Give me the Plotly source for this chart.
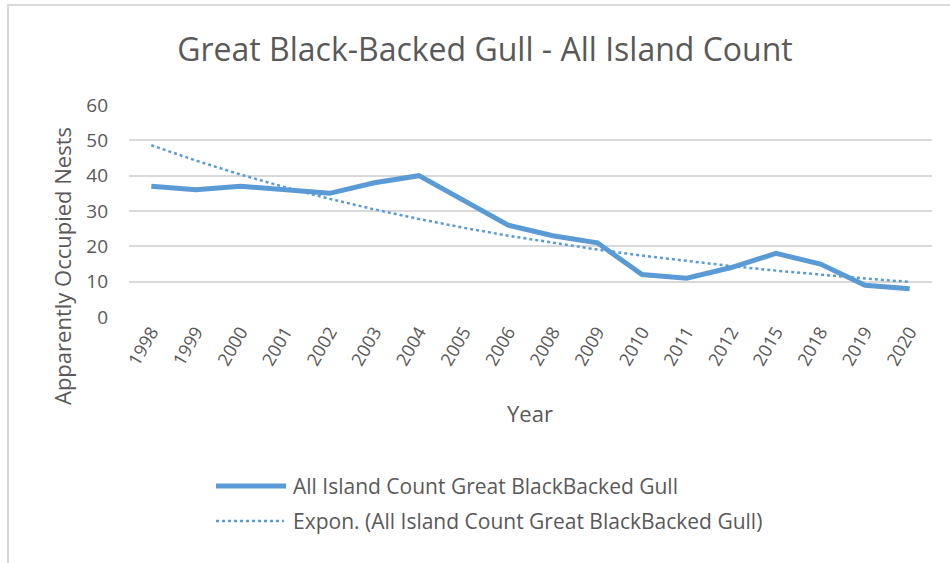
import numpy as np
import plotly.graph_objects as go

# Survey years (categorical axis) and apparently occupied nests
years = ["1998", "1999", "2000", "2001", "2002", "2003", "2004", "2005", "2006",
         "2008", "2009", "2010", "2011", "2012", "2015", "2018", "2019", "2020"]
nests = [37, 36, 37, 36, 35, 38, 40, 33, 26, 23, 21, 12, 11, 14, 18, 15, 9, 8]

series_name = "All Island Count Great BlackBacked Gull"
trend_name = "Expon. (All Island Count Great BlackBacked Gull)"

# Exponential trendline fitted on the category index (1..n), as a spreadsheet does
idx = np.arange(1, len(nests) + 1)
b, ln_a = np.polyfit(idx, np.log(nests), 1)
trend = np.exp(ln_a) * np.exp(b * idx)

BLUE = "#5b9bd5"
GREY = "#595959"
GRID = "#d9d9d9"
FONT = "Open Sans"

W, H = 950, 563
L, R, T, B = 129, 18, 105, 246
PW, PH = W - L - R, H - T - B


def px_x(px):
    return (px - L) / PW


def px_y(py):
    return (H - B - py) / PH


fig = go.Figure()
fig.add_trace(go.Scatter(
    x=years, y=nests, mode="lines", name=series_name,
    line=dict(color=BLUE, width=5), showlegend=False,
))
fig.add_trace(go.Scatter(
    x=years, y=trend, mode="lines", name=trend_name,
    line=dict(color=BLUE, width=2.5, dash="dot"), showlegend=False,
))

shapes = [
    # chart frame (top and left edges)
    dict(type="line", xref="paper", yref="paper", x0=px_x(7), x1=px_x(952),
         y0=px_y(5), y1=px_y(5), line=dict(color=GRID, width=2)),
    dict(type="line", xref="paper", yref="paper", x0=px_x(8), x1=px_x(8),
         y0=px_y(5), y1=px_y(565), line=dict(color=GRID, width=2)),
    # legend samples
    dict(type="line", xref="paper", yref="paper", x0=px_x(216), x1=px_x(286),
         y0=px_y(486), y1=px_y(486), line=dict(color=BLUE, width=5)),
    dict(type="line", xref="paper", yref="paper", x0=px_x(216), x1=px_x(284),
         y0=px_y(521), y1=px_y(521), line=dict(color=BLUE, width=2.5, dash="dot")),
]

annotations = [
    dict(text="Apparently Occupied Nests", xref="paper", yref="paper",
         x=px_x(62), y=px_y(266), textangle=-90, showarrow=False,
         font=dict(family=FONT, size=22, color=GREY), xanchor="center", yanchor="middle"),
    dict(text="Year", xref="paper", yref="paper",
         x=px_x(530), y=px_y(413), showarrow=False,
         font=dict(family=FONT, size=22, color=GREY), xanchor="center", yanchor="middle"),
    dict(text=series_name, xref="paper", yref="paper", x=px_x(291), y=px_y(486),
         showarrow=False, xanchor="left", yanchor="middle",
         font=dict(family=FONT, size=21, color=GREY)),
    dict(text=trend_name, xref="paper", yref="paper", x=px_x(291), y=px_y(521),
         showarrow=False, xanchor="left", yanchor="middle",
         font=dict(family=FONT, size=21, color=GREY)),
]

fig.update_layout(
    width=W, height=H,
    margin=dict(l=L, r=R, t=T, b=B),
    paper_bgcolor="white", plot_bgcolor="white",
    title=dict(text="Great Black-Backed Gull - All Island Count",
               x=485 / W, xref="container", xanchor="center",
               y=1 - 50 / H, yref="container", yanchor="middle",
               font=dict(family=FONT, size=32, color=GREY)),
    shapes=shapes, annotations=annotations, showlegend=False,
)
fig.update_xaxes(
    type="category", range=[-0.5, len(years) - 0.5], tickangle=-60,
    showgrid=False, showline=False, ticks="",
    tickfont=dict(family=FONT, size=18, color=GREY),
)
fig.update_yaxes(
    range=[0, 60], dtick=10, showgrid=True, gridcolor=GRID, gridwidth=1.5,
    zeroline=False, showline=False, ticks="", ticklabelstandoff=20,
    tickfont=dict(family=FONT, size=19, color=GREY),
)

fig.write_html("out.html")
